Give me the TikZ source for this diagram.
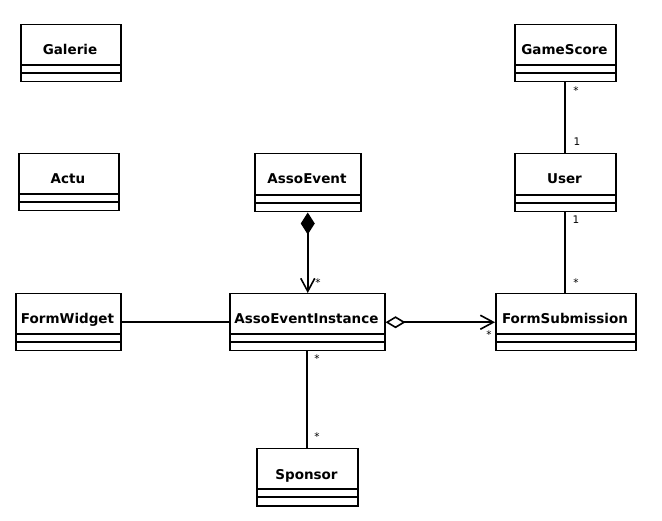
\documentclass[tikz,border=0pt]{standalone}
\usepackage{fontspec}
\setmainfont{DejaVu Sans}
\usetikzlibrary{arrows.meta}
\tikzset{
  clsbox/.style={draw, line width=1.5pt, inner sep=0pt, anchor=north west},
  clsname/.style={anchor=base, inner sep=0pt, font=\fontsize{13.5}{16}\selectfont\bfseries},
  assoc/.style={line width=1.6pt},
  mult/.style={inner sep=0pt, font=\fontsize{10.5}{12}\selectfont},
}
% \umlcls{name}{x1}{y1}{x2}{y2}{text}
\newcommand{\umlcls}[6]{%
  \node[clsbox, minimum width=#4-#2, minimum height=#5-#3] (#1) at (#2,#3) {};
  \node[clsname] (#1-t) at ({(#2+#4)/2},#3+31) {#6};
  \draw[line width=1.5pt] (#2,#5-16) -- (#4,#5-16);
  \draw[line width=1.5pt] (#2,#5-8) -- (#4,#5-8);
}
\begin{document}
\begin{tikzpicture}[x=1pt,y=-1pt]
\useasboundingbox[fill=white] (0,0) rectangle (662,521);
\umlcls{galerie}{20}{24}{120}{81}{Galerie}
\umlcls{actu}{18}{153}{118}{210}{Actu}
\umlcls{assoevent}{254}{153}{360}{211}{AssoEvent}
\umlcls{gamescore}{514}{24}{615}{81}{GameScore}
\umlcls{user}{514}{153}{615}{211}{User}
\umlcls{formwidget}{15}{293}{120}{350}{FormWidget}
\umlcls{aei}{229}{293}{384}{350}{AssoEventInstance}
\umlcls{formsub}{495}{293}{635}{350}{FormSubmission}
\umlcls{sponsor}{256}{448}{357}{505}{Sponsor}

\draw[assoc] (formwidget.east) -- (aei.west);
\draw[assoc, {Diamond[length=22pt,width=14pt]}-{Straight Barb[length=13pt,width=14pt]}] (assoevent.south) -- (assoevent.south |- aei.north);
\draw[assoc] (aei.south) -- (aei.south |- sponsor.north);
\draw[assoc, {Diamond[open,length=20pt,width=12pt]}-{Straight Barb[length=13pt,width=14pt]}] (aei.east) -- (formsub.west);
\draw[assoc] (gamescore.south) -- (user.north);
\draw[assoc] (user.south) -- (user.south |- formsub.north);

\node[mult] (m1) at (576,91) {*};
\node[mult] (m2) at (577,141.5) {1};
\node[mult] (m3) at (576,220) {1};
\node[mult] (m4) at (576,283) {*};
\node[mult] (m5) at (318,283) {*};
\node[mult] (m6) at (489,335) {*};
\node[mult] (m7) at (317,359) {*};
\node[mult] (m8) at (317,437) {*};
\end{tikzpicture}
\end{document}
